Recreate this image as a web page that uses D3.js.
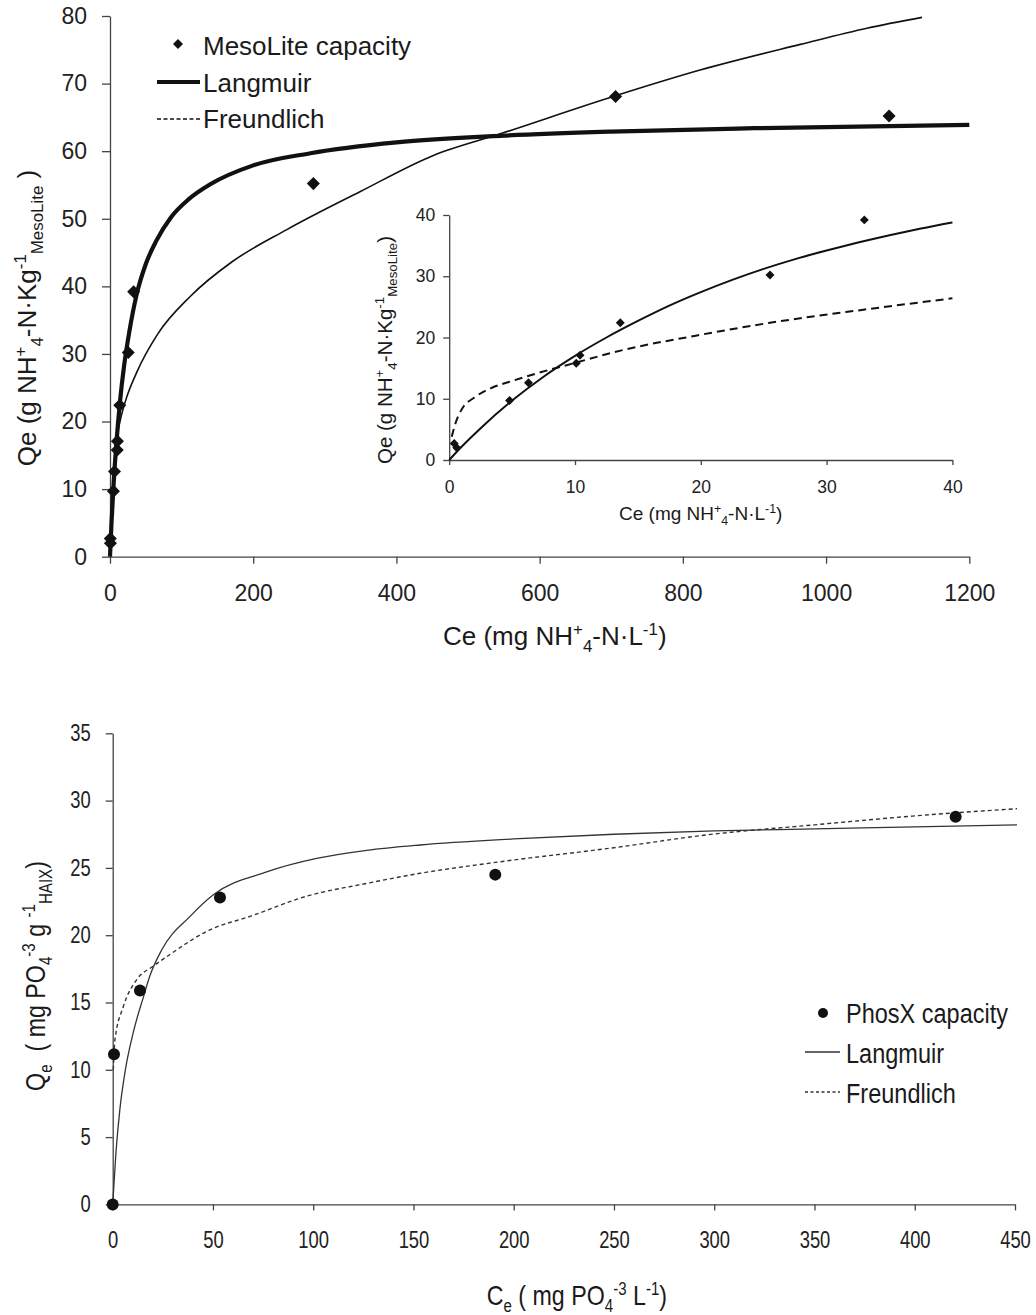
<!DOCTYPE html>
<html>
<head>
<meta charset="utf-8">
<script src="https://cdn.jsdelivr.net/npm/d3@7"></script>
<style>
  html, body { margin: 0; padding: 0; background: #fff; }
  text { white-space: pre; }
</style>
</head>
<body>
<script>
// ---------------- DATA ----------------
// Top chart: MesoLite ammonium capacity
const mesoCe = [0.4, 0.6, 4.8, 6.3, 10.1, 10.4, 13.6, 25.5, 33.0, 284, 706, 1088];
const mesoQe = [2.7, 2.0, 9.7, 12.6, 15.8, 17.1, 22.4, 30.2, 39.2, 55.2, 68.1, 65.2];

const langMainCe = [0, 2, 5, 9, 14, 20, 27, 37, 50, 65, 85, 110, 140, 200, 280, 400, 550, 700, 900, 1200];
const langMainQe = [0, 4.8, 10.7, 16.9, 23.0, 28.5, 33.3, 38.7, 43.3, 46.8, 50.2, 52.9, 55.1, 57.9, 59.7, 61.3, 62.3, 62.9, 63.4, 63.9];

const freuMainCe = [7, 10, 15, 23, 37, 67, 112, 170, 247, 349, 450, 546, 706, 824, 964, 1057, 1134];
const freuMainQe = [16.1, 18.0, 20.5, 23.5, 27.2, 33.0, 38.5, 43.6, 48.4, 54.0, 59.3, 62.6, 68.2, 72.0, 75.8, 78.2, 79.8];

// Inset (0-40)
const insetLangCe = [0, 1, 2.5, 5, 7.5, 10, 12.5, 15, 17.5, 20, 22.5, 25, 27.5, 30, 32.5, 35, 37.5, 40];
const insetLangQe = [0, 2.2, 5.2, 9.7, 13.6, 17.0, 20.0, 22.7, 25.2, 27.4, 29.4, 31.2, 32.8, 34.2, 35.5, 36.7, 37.8, 38.8];
const insetFreuCe = [0.2, 0.5, 1, 2, 3.4, 5, 6.4, 9.9, 13.7, 19.6, 25.5, 32.8, 40];
const insetFreuQe = [3.8, 6.0, 8.3, 10.2, 11.8, 12.9, 13.8, 15.8, 17.9, 20.3, 22.4, 24.5, 26.4];

// Bottom chart: PhosX phosphate capacity
const phosCe = [0, 0.65, 13.6, 53.5, 190.8, 420.4];
const phosQe = [0, 11.15, 15.9, 22.8, 24.5, 28.8];

const langPCe = [0, 1.6, 3.6, 6.1, 10.3, 15.3, 18.6, 24.4, 38.6, 50.2, 76.8, 101.7, 126.7, 153.3, 200, 250, 300, 350, 400, 451];
const langPQe = [0, 3.8, 7.1, 9.8, 12.8, 15.4, 17.0, 18.9, 21.4, 23.0, 24.7, 25.7, 26.3, 26.7, 27.15, 27.5, 27.75, 27.9, 28.05, 28.2];

const freuPCe = [0.3, 1.1, 5.3, 12.0, 20.2, 26.9, 48.5, 68.5, 96.8, 126.7, 153.3, 193, 250, 296, 350, 398.8, 451];
const freuPQe = [10.0, 12.2, 14.7, 16.7, 17.7, 18.4, 20.4, 21.4, 22.9, 23.85, 24.6, 25.45, 26.5, 27.45, 28.2, 28.85, 29.4];

// Tick values
const mainXTicks = [0, 200, 400, 600, 800, 1000, 1200];
const mainYTicks = [0, 10, 20, 30, 40, 50, 60, 70, 80];
const insetXTicks = [0, 10, 20, 30, 40];
const insetYTicks = [0, 10, 20, 30, 40];
const botXTicks = [0, 50, 100, 150, 200, 250, 300, 350, 400, 450];
const botYTicks = [0, 5, 10, 15, 20, 25, 30, 35];

// Legend labels
const topLegend = ["MesoLite capacity", "Langmuir", "Freundlich"];
const botLegend = ["PhosX capacity", "Langmuir", "Freundlich"];

// ---------------- DRAW ----------------
const W = 1036, H = 1315;
const SANS = "'Liberation Sans', Arial, Helvetica, sans-serif";
const INK = "#111";
const AX = "#444";
const NS = 0.8; // horizontal squeeze emulating a narrow face for the lower chart

const svg = d3.select("body").append("svg").attr("width", W).attr("height", H);

const zip = (a, b) => a.map((v, i) => [v, b[i]]);

function styleAxis(g, fs, squeeze) {
  g.attr("font-size", null).attr("font-family", null);
  g.select(".domain").attr("stroke", AX).attr("stroke-width", 1.3);
  g.selectAll(".tick line").attr("stroke", AX).attr("stroke-width", 1.3);
  const t = g.selectAll(".tick text").attr("font-size", fs).attr("font-family", SANS).attr("fill", "#222");
  if (squeeze) {
    t.each(function () {
      const s = d3.select(this);
      const x = +s.attr("x") || 0;
      s.attr("x", x / squeeze).attr("transform", `scale(${squeeze},1)`);
    });
  }
}

function rich(parent, parts, o) {
  const t = parent.append("text")
    .attr("x", o.x || 0).attr("y", o.y || 0)
    .attr("font-size", o.fs).attr("font-family", SANS)
    .attr("text-anchor", o.anchor || "start").attr("fill", "#1a1a1a");
  let cur = 0;
  parts.forEach(([s, k]) => {
    const target = k === "sup" ? -0.38 * o.fs : k === "sub" ? 0.26 * o.fs : 0;
    t.append("tspan").text(s).attr("dy", target - cur).attr("font-size", k ? 0.65 * o.fs : o.fs);
    cur = target;
  });
  return t;
}

// ===== TOP MAIN CHART =====
const x1 = d3.scaleLinear().domain([0, 1200]).range([110, 969.3]);
const y1 = d3.scaleLinear().domain([0, 80]).range([556.7, 16]);

const gx1 = svg.append("g").attr("transform", `translate(0,${y1(0)})`)
  .call(d3.axisBottom(x1).tickValues(mainXTicks).tickSize(7).tickSizeOuter(0).tickPadding(21).tickFormat(d3.format("d")));
styleAxis(gx1, 23);
const gy1 = svg.append("g").attr("transform", `translate(${x1(0)},0)`)
  .call(d3.axisLeft(y1).tickValues(mainYTicks).tickSize(8).tickSizeOuter(0).tickPadding(15).tickFormat(d3.format("d")));
styleAxis(gy1, 23);

const line1 = d3.line().x(d => x1(d[0])).y(d => y1(d[1])).curve(d3.curveMonotoneX);
svg.append("path").datum(zip(freuMainCe, freuMainQe)).attr("d", line1)
  .attr("fill", "none").attr("stroke", INK).attr("stroke-width", 1.6);
svg.append("path").datum(zip(langMainCe, langMainQe)).attr("d", line1)
  .attr("fill", "none").attr("stroke", INK).attr("stroke-width", 4.2);

const diamond = (size) => d3.symbol().type(d3.symbolSquare).size(size);
svg.append("g").selectAll("path").data(zip(mesoCe, mesoQe)).join("path")
  .attr("d", diamond(85)())
  .attr("transform", d => `translate(${x1(d[0])},${y1(d[1])}) rotate(45)`)
  .attr("fill", INK);

// titles
rich(svg, [["Ce (mg NH", ""], ["+", "sup"], ["4", "sub"], ["-N·L", ""], ["-1", "sup"], [")", ""]],
  { x: 443, y: 645, fs: 26 });
rich(svg.append("g").attr("transform", "translate(36,318) rotate(-90)"),
  [["Qe (g NH", ""], ["+", "sup"], ["4", "sub"], ["-N·Kg", ""], ["-1", "sup"], ["MesoLite", "sub"], [" )", ""]],
  { fs: 26, anchor: "middle" });

// legend
const lgT = svg.append("g");
lgT.append("path").attr("d", diamond(50)()).attr("transform", "translate(178,44) rotate(45)").attr("fill", INK);
lgT.append("line").attr("x1", 157).attr("x2", 200).attr("y1", 82).attr("y2", 82).attr("stroke", INK).attr("stroke-width", 4.2);
lgT.append("line").attr("x1", 157).attr("x2", 200).attr("y1", 119).attr("y2", 119).attr("stroke", INK).attr("stroke-width", 1.3).attr("stroke-dasharray", "4,2.5");
lgT.selectAll("text").data(topLegend).join("text")
  .attr("x", 203).attr("y", (d, i) => [55, 92, 128][i])
  .attr("font-size", 26).attr("font-family", SANS).attr("fill", "#1a1a1a").text(d => d);

// ===== INSET =====
const xi = d3.scaleLinear().domain([0, 40]).range([449.2, 952.4]);
const yi = d3.scaleLinear().domain([0, 40]).range([460, 215]);
const gxi = svg.append("g").attr("transform", `translate(0,${yi(0)})`)
  .call(d3.axisBottom(xi).tickValues(insetXTicks).tickSize(5).tickSizeOuter(0).tickPadding(16));
styleAxis(gxi, 17.5);
const gyi = svg.append("g").attr("transform", `translate(${xi(0)},0)`)
  .call(d3.axisLeft(yi).tickValues(insetYTicks).tickSize(6).tickSizeOuter(0).tickPadding(8));
styleAxis(gyi, 17.5);

const linei = d3.line().x(d => xi(d[0])).y(d => yi(d[1])).curve(d3.curveMonotoneX);
svg.append("path").datum(zip(insetFreuCe, insetFreuQe)).attr("d", linei)
  .attr("fill", "none").attr("stroke", INK).attr("stroke-width", 2).attr("stroke-dasharray", "8,5");
svg.append("path").datum(zip(insetLangCe, insetLangQe)).attr("d", linei)
  .attr("fill", "none").attr("stroke", INK).attr("stroke-width", 2);
svg.append("g").selectAll("path").data(zip(mesoCe, mesoQe).filter(d => d[0] <= 40)).join("path")
  .attr("d", diamond(40)())
  .attr("transform", d => `translate(${xi(d[0])},${yi(d[1])}) rotate(45)`)
  .attr("fill", INK);

rich(svg, [["Ce (mg NH", ""], ["+", "sup"], ["4", "sub"], ["-N·L", ""], ["-1", "sup"], [")", ""]],
  { x: 700.7, y: 520, fs: 19, anchor: "middle" });
rich(svg.append("g").attr("transform", "translate(392,350) rotate(-90)"),
  [["Qe (g NH", ""], ["+", "sup"], ["4", "sub"], ["-N·Kg", ""], ["-1", "sup"], ["MesoLite", "sub"], [")", ""]],
  { fs: 20.5, anchor: "middle" });

// ===== BOTTOM CHART =====
const x2 = d3.scaleLinear().domain([0, 450]).range([112.7, 1015]);
const y2 = d3.scaleLinear().domain([0, 35]).range([1204.4, 733.3]);
const gx2 = svg.append("g").attr("transform", `translate(0,${y2(0)})`)
  .call(d3.axisBottom(x2).tickValues(botXTicks).tickSize(6).tickSizeOuter(0).tickPadding(21));
styleAxis(gx2, 23, NS);
const gy2 = svg.append("g").attr("transform", `translate(${x2(0)},0)`)
  .call(d3.axisLeft(y2).tickValues(botYTicks).tickSize(7).tickSizeOuter(0).tickPadding(15));
styleAxis(gy2, 23, NS);

const line2 = d3.line().x(d => x2(d[0])).y(d => y2(d[1])).curve(d3.curveMonotoneX);
svg.append("path").datum(zip(freuPCe, freuPQe)).attr("d", line2)
  .attr("fill", "none").attr("stroke", "#333").attr("stroke-width", 1.4).attr("stroke-dasharray", "4,3");
svg.append("path").datum(zip(langPCe, langPQe)).attr("d", line2)
  .attr("fill", "none").attr("stroke", "#333").attr("stroke-width", 1.3);
svg.append("g").selectAll("circle").data(zip(phosCe, phosQe)).join("circle")
  .attr("cx", d => x2(d[0])).attr("cy", d => y2(d[1])).attr("r", 6).attr("fill", INK);

rich(svg.append("g").attr("transform", "translate(486.7,1305) scale(0.86,1)"),
  [["C", ""], ["e", "sub"], [" ( mg PO", ""], ["4", "sub"], ["-3", "sup"], [" L", ""], ["-1", "sup"], [")", ""]],
  { fs: 27 });
rich(svg.append("g").attr("transform", "translate(45,976) rotate(-90) scale(0.86,1)"),
  [["Q", ""], ["e", "sub"], ["  ( mg PO", ""], ["4", "sub"], ["-3", "sup"], [" g ", ""], ["-1", "sup"], ["HAIX", "sub"], [")", ""]],
  { fs: 27, anchor: "middle" });

const lgB = svg.append("g");
lgB.append("circle").attr("cx", 823).attr("cy", 1013).attr("r", 5).attr("fill", INK);
lgB.append("line").attr("x1", 805).attr("x2", 840).attr("y1", 1052).attr("y2", 1052).attr("stroke", "#333").attr("stroke-width", 1.3);
lgB.append("line").attr("x1", 805).attr("x2", 840).attr("y1", 1092).attr("y2", 1092).attr("stroke", "#333").attr("stroke-width", 1.3).attr("stroke-dasharray", "3,2.5");
lgB.selectAll("text").data(botLegend).join("text")
  .attr("transform", (d, i) => `translate(846,${[1023, 1063, 1103][i]}) scale(0.84,1)`)
  .attr("font-size", 28).attr("font-family", SANS).attr("fill", "#1a1a1a").text(d => d);
</script>
</body>
</html>
